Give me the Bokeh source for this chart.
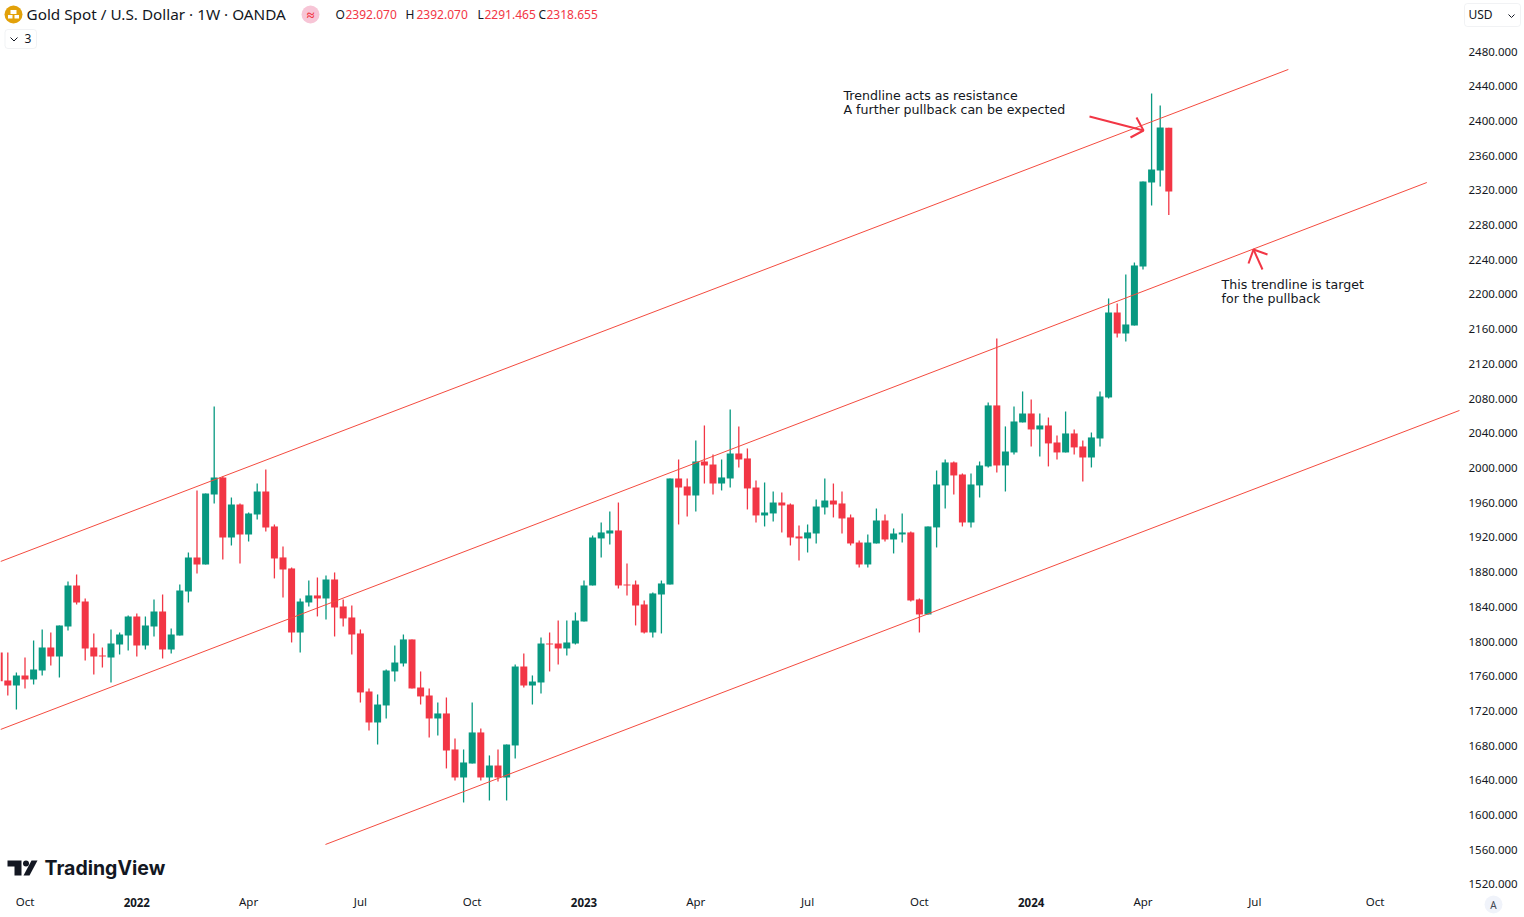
from bokeh.plotting import figure
from bokeh.models import Label, BoxAnnotation, FixedTicker, ColumnDataSource, LinearAxis
from bokeh.embed import file_html
from bokeh.resources import INLINE

# Weekly candles, first value belongs to the partly visible bar left of the pane
opens = [1787.4,
 1755.1,1749.3,1760.9,1756.2,1766.6,1793.1,1782.8,1817.3,1864.6,1846.1,
 1793.1,1783.9,1781.6,1796.6,1807.0,1828.9,1795.4,1817.3,1834.6,1790.8,
 1807.0,1857.7,1896.9,1888.8,1969.5,1989.1,1919.9,1957.9,1923.4,1946.4,
 1972.9,1932.6,1896.9,1884.2,1810.4,1845.0,1853.1,1849.6,1871.5,1840.4,
 1827.7,1809.3,1742.4,1706.7,1726.3,1765.5,1774.7,1802.4,1747.0,1737.8,
 1711.3,1717.1,1675.6,1643.3,1659.4,1695.2,1643.3,1657.1,1643.3,1680.2,
 1771.2,1749.3,1752.8,1797.7,1797.7,1792.0,1797.7,1823.1,1864.6,1918.8,
 1924.5,1928.0,1865.7,1865.7,1842.7,1810.4,1854.2,1865.7,1987.9,1978.7,
 1968.3,2007.5,2004.0,1982.1,1987.9,2016.7,2011.0,1977.5,1945.3,1947.6,
 1960.2,1957.9,1921.1,1918.8,1924.5,1954.5,1962.5,1959.1,1943.0,1914.1,
 1888.8,1913.0,1939.5,1917.6,1923.4,1925.7,1848.5,1831.2,1931.5,1979.9,
 2006.4,1992.5,1937.2,1979.9,2001.8,2072.1,2002.9,2017.9,2052.5,2062.8,
 2044.4,2049.0,2029.4,2017.9,2039.8,2024.8,2012.1,2034.0,2081.3,2179.2,
 2155.0,2164.2,2232.2,2329.0,2342.9,2392.07]
closes = [1754.3,
 1749.3,1760.9,1756.2,1767.8,1793.1,1782.8,1818.5,1864.6,1845.0,1792.0,
 1782.8,1782.8,1797.7,1808.1,1828.9,1795.4,1818.5,1834.6,1790.8,1808.1,
 1858.8,1896.9,1888.8,1970.6,1989.1,1919.9,1957.9,1923.4,1947.6,1972.9,
 1931.4,1895.7,1883.0,1810.4,1846.1,1853.1,1849.6,1871.5,1839.2,1826.6,
 1808.1,1741.3,1706.7,1727.4,1766.6,1775.8,1802.4,1745.9,1736.7,1711.3,
 1717.1,1674.4,1643.3,1660.6,1695.2,1643.3,1657.1,1643.3,1681.3,1771.2,
 1749.3,1753.9,1797.7,1796.6,1792.0,1798.9,1824.2,1864.6,1919.9,1925.7,
 1928.0,1864.6,1864.6,1841.5,1810.4,1855.4,1866.9,1987.9,1977.5,1968.3,
 2007.5,2002.9,1982.1,1989.1,2016.7,2009.8,1976.4,1945.3,1948.7,1960.2,
 1956.8,1919.9,1918.8,1925.7,1955.6,1962.5,1957.9,1941.8,1913.0,1888.8,
 1914.1,1939.5,1917.6,1924.5,1925.7,1847.3,1831.2,1932.6,1981.0,2006.4,
 1991.4,1937.2,1981.0,2002.9,2072.1,2002.9,2019.0,2053.6,2062.8,2044.4,
 2049.0,2028.3,2017.9,2039.8,2023.7,2012.1,2035.2,2082.4,2179.2,2155.0,
 2165.4,2233.4,2330.2,2344.0,2392.4,2318.655]
highs = [1795.0,
 1787.4,1764.3,1781.6,1801.2,1813.9,1810.4,1818.5,1869.2,1877.3,1849.6,
 1809.3,1793.1,1813.9,1810.4,1830.0,1832.3,1828.9,1848.5,1854.2,1815.0,
 1865.7,1902.6,1974.1,1970.6,2070.9,1990.2,1966.0,1959.1,1948.7,1982.1,
 1998.3,1934.9,1909.5,1885.3,1849.6,1870.3,1873.8,1876.1,1879.6,1848.5,
 1841.5,1813.9,1745.9,1739.0,1767.8,1795.4,1808.1,1802.4,1765.5,1745.9,
 1729.7,1735.5,1688.3,1675.6,1729.7,1699.8,1668.7,1675.6,1681.3,1773.5,
 1786.2,1760.9,1804.7,1810.4,1824.2,1824.2,1833.5,1870.3,1922.2,1937.2,
 1949.9,1960.2,1889.9,1870.3,1847.3,1856.5,1870.3,1987.9,2009.8,1987.9,
 2031.7,2049.0,2015.6,2009.8,2067.4,2047.8,2022.5,1985.6,1983.3,1972.9,
 1971.8,1959.1,1933.7,1934.9,1963.7,1987.9,1982.1,1972.9,1946.4,1916.4,
 1923.4,1953.3,1946.4,1930.3,1947.6,1926.8,1849.6,1932.6,1997.1,2009.8,
 2007.5,1993.7,1993.7,2007.5,2075.5,2149.3,2047.9,2070.9,2088.2,2079.0,
 2062.8,2058.2,2037.5,2065.1,2044.4,2031.7,2040.9,2088.2,2195.4,2189.6,
 2223.0,2236.8,2330.2,2431.6,2417.8,2392.07]
lows = [1752.0,
 1737.8,1721.7,1745.9,1750.5,1760.9,1772.4,1758.6,1812.7,1842.7,1778.1,
 1762.0,1770.1,1752.8,1785.1,1789.7,1782.8,1790.8,1805.8,1780.5,1786.2,
 1807.0,1845.0,1878.4,1888.8,1959.1,1894.6,1910.7,1889.9,1915.3,1940.7,
 1926.8,1872.7,1850.8,1798.9,1787.4,1840.4,1828.9,1825.4,1805.8,1817.3,
 1785.1,1729.7,1697.5,1681.3,1711.3,1753.9,1771.2,1745.9,1727.4,1689.4,
 1691.7,1653.7,1639.8,1614.5,1659.4,1639.8,1616.8,1638.7,1616.8,1665.2,
 1747.0,1727.4,1740.1,1765.5,1773.5,1783.9,1796.6,1823.1,1864.6,1896.9,
 1911.8,1861.1,1853.1,1818.5,1809.3,1804.7,1809.3,1865.7,1934.9,1944.1,
 1949.9,1982.1,1969.5,1974.1,1977.5,2000.6,1952.2,1937.2,1932.6,1938.3,
 1925.7,1910.7,1893.4,1902.6,1913.0,1946.4,1943.0,1924.5,1910.7,1885.3,
 1885.3,1913.0,1915.3,1901.5,1914.1,1846.1,1810.4,1831.2,1908.4,1953.4,
 1969.5,1932.6,1931.5,1966.0,2000.6,1994.8,1972.9,2015.6,2052.5,2024.8,
 2013.3,2001.8,2009.8,2017.9,2015.6,1984.5,2000.6,2024.8,2080.1,2150.4,
 2145.8,2164.2,2228.8,2302.5,2324.4,2291.465]
week_index = list(range(-1, len(opens) - 1))

price_ticks = list(range(1520, 2481, 40))
month_ticks = [2, 28, 41, 54, 80, 93, 106, 132, 145, 159]
month_labels = ["Oct", "Apr", "Jul", "Oct", "Apr", "Jul", "Oct", "Apr", "Jul", "Oct"]
year_ticks = [15, 67, 119]
year_labels = ["2022", "2023", "2024"]

# Trendlines as (week, price) end points
channel_weeks = [[-0.85, 148.9], [-0.85, 165.0], [36.94, 168.8]]
channel_prices = [[1892.2, 2459.3], [1698.6, 2329.0], [1566.1, 2066.3]]

GREEN, RED, INK, LINE_RED = "#089981", "#f23645", "#131722", "#f44b3f"
W, H, PANE_W, PANE_H = 1524, 917, 1462, 890
STEP, X0, DOLLARS_PER_PX, Y51 = 8.6, 7.3, 1.1525, 51


def X(px):
    return (px - X0) / STEP


def Y(py):
    return 2480 - (py - Y51) * DOLLARS_PER_PX


p = figure(width=W, height=H, output_backend="svg", toolbar_location=None,
           x_range=(X(0), X(W)), y_range=(Y(H), Y(0)), x_axis_type=None, y_axis_type=None,
           min_border=0, outline_line_color=None,
           background_fill_color="white", border_fill_color="white")
p.grid.visible = False


def make_axis(ticks, labels, fixed, standoff, style="normal"):
    ax = LinearAxis(ticker=FixedTicker(ticks=ticks), major_label_overrides=dict(zip(ticks, labels)),
                    fixed_location=fixed, major_label_standoff=standoff,
                    major_tick_in=0, major_tick_out=0, minor_tick_in=0, minor_tick_out=0,
                    axis_line_color=None, major_tick_line_color=None, minor_tick_line_color=None,
                    major_label_text_color=INK, major_label_text_font="Noto Sans",
                    major_label_text_font_size="11.5px", major_label_text_font_style=style)
    return ax


p.add_layout(make_axis(price_ticks, [f"{t}.000" for t in price_ticks], X(PANE_W), 6), "right")
p.add_layout(make_axis(month_ticks, month_labels, Y(PANE_H), 3), "below")
p.add_layout(make_axis(year_ticks, year_labels, Y(PANE_H), 7, "bold"), "below")

src = ColumnDataSource(dict(
    x=week_index, o=opens, c=closes, h=highs, l=lows,
    top=[max(a, b) for a, b in zip(opens, closes)],
    bottom=[min(a, b) for a, b in zip(opens, closes)],
    color=[GREEN if b >= a else RED for a, b in zip(opens, closes)],
))
p.segment("x", "h", "x", "l", source=src, line_color="color", line_width=1.3)
p.vbar("x", width=7 / STEP, top="top", bottom="bottom", source=src,
       fill_color="color", line_color=None)
p.multi_line(channel_weeks, channel_prices, line_color=LINE_RED, line_width=1)

# Hand-drawn arrows of the annotations
arrow_px = [
    [(1089, 116), (1143, 130)], [(1136, 117), (1143, 130), (1130, 137)],
    [(1262, 269), (1253, 249)], [(1248, 263), (1253, 249), (1267, 254)],
]
p.multi_line([[X(a) for a, _ in s] for s in arrow_px],
             [[Y(b) for _, b in s] for s in arrow_px], line_color=RED, line_width=2)


def text(t, px, py, size=12, color=INK, font="Noto Sans", style="normal", align="left"):
    p.add_layout(Label(x=X(px), y=Y(py), text=t, text_color=color, text_font=font,
                       text_font_size=f"{size}px", text_font_style=style, text_align=align,
                       text_baseline="middle"))


# Header
p.scatter([X(13)], [Y(14)], size=18, marker="circle", fill_color="#e2a10a", line_color=None)
p.quad(left=[X(10), X(7.5), X(14)], right=[X(16), X(12), X(18.5)],
       top=[Y(9.5), Y(14.5), Y(14.5)], bottom=[Y(13.5), Y(18), Y(18)],
       fill_color="white", line_color=None)
text("Gold Spot / U.S. Dollar · 1W · OANDA", 26, 13.5, size=15.3)
p.scatter([X(310)], [Y(14)], size=18, marker="circle", fill_color="#f7c5d6", line_color=None)
text("≈", 310, 14, size=14, color=RED, align="center", style="bold")
for t, x_, c_ in [("O", 335, INK), ("2392.070", 345, RED), ("H", 405, INK), ("2392.070", 416, RED),
                  ("L", 477, INK), ("2291.465", 484, RED), ("C", 538, INK), ("2318.655", 546, RED)]:
    text(t, x_, 13.5, size=12, color=c_)
p.add_layout(BoxAnnotation(left=X(4.5), right=X(36), top=Y(29), bottom=Y(48), fill_alpha=0,
                           line_color="#d1d4dc", line_width=1, border_radius=3))
p.multi_line([[X(10), X(13.5), X(17)]], [[Y(37), Y(40.5), Y(37)]], line_color=INK, line_width=1)
text("3", 24, 37.5, size=12)

# USD selector and auto button
p.add_layout(BoxAnnotation(left=X(1464), right=X(1520), top=Y(3), bottom=Y(26), fill_alpha=0,
                           line_color="#d1d4dc", line_width=1, border_radius=3))
text("USD", 1468, 13.5, size=12)
p.multi_line([[X(1508), X(1511), X(1514)]], [[Y(14), Y(17), Y(14)]], line_color=INK, line_width=1)
p.add_layout(BoxAnnotation(left=X(1484), right=X(1502), top=Y(895), bottom=Y(913), fill_color="#f0f3fa",
                           fill_alpha=1, line_color=None, border_radius=9))
text("A", 1493, 904, size=10, align="center", color="#434651")

# Annotation notes
text("Trendline acts as resistance", 843, 95, size=12.6, font="DejaVu Sans")
text("A further pullback can be expected", 843, 109, size=12.6, font="DejaVu Sans")
text("This trendline is target", 1221, 284, size=12.6, font="DejaVu Sans")
text("for the pullback", 1221, 298, size=12.6, font="DejaVu Sans")

# Watermark
logo_x = [[7, 21, 21, 14, 14, 7], [23, 31, 37, 29]]
logo_y = [[860, 860, 875, 875, 866, 866], [875, 860, 860, 875]]
p.patches([[X(a) for a in s] for s in logo_x], [[Y(b) for b in s] for s in logo_y],
          fill_color=INK, line_color=None)
p.scatter([X(25.5)], [Y(863)], size=6, marker="circle", fill_color=INK, line_color=None)
text("TradingView", 44, 867.5, size=19.5, font="Inter", style="bold")

open("out.html", "w").write(file_html(p, INLINE))
